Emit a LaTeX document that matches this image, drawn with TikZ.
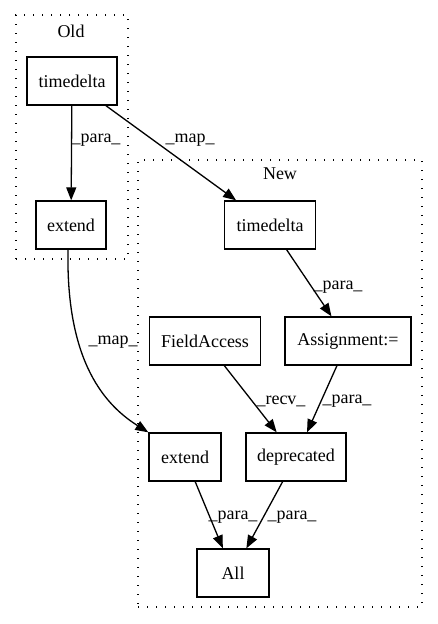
\documentclass[tikz,border=0pt]{standalone}
\usepackage{fontspec}
\setmainfont{Liberation Serif}
\usetikzlibrary{arrows.meta}
\begin{document}
\begin{tikzpicture}[x=1pt,y=-1pt,
  font=\fontsize{18}{20}\selectfont,
  box/.style={draw, line width=1.3pt, rectangle, inner sep=0pt, minimum height=48pt},
  cluster/.style={draw, line width=1.3pt, dash pattern=on 1.3pt off 7.7pt, rectangle, inner sep=0pt},
  edge/.style={draw, line width=1.3pt, -{Triangle[length=13pt,width=10pt]}},
  lbl/.style={inner sep=0pt}]
\useasboundingbox (0,0) rectangle (437,624);
% clusters
\node[cluster, minimum width=112pt, minimum height=244pt] (cold) at (72,137) {};
\node[cluster, minimum width=284pt, minimum height=447pt] (cnew) at (280,383.5) {};
\node[lbl] (told) at (71,31) {Old};
\node[lbl] (tnew) at (280,174) {New};
% nodes
\node[box, minimum width=90pt] (otd) at (72,81) {timedelta};
\node[box, minimum width=70pt] (oext) at (71,225) {extend};
\node[box, minimum width=91pt] (ntd) at (270,225) {timedelta};
\node[box, minimum width=111pt] (fa) at (205,341) {FieldAccess};
\node[box, minimum width=126pt] (asg) at (348,341) {Assignment:=};
\node[box, minimum width=72pt] (next) at (185,457) {extend};
\node[box, minimum width=100pt] (dep) at (296,457) {deprecated};
\node[box, minimum width=72pt] (all) at (233,573) {All};
% edges
\draw[edge] (otd) -- (oext);
\draw[edge] (otd) -- (ntd);
\draw[edge] (ntd) -- (asg);
\draw[edge] (fa) -- (dep);
\draw[edge] (asg) -- (dep);
\draw[edge] (next) -- (all);
\draw[edge] (dep) -- (all);
\draw[edge] ([xshift=-3pt]oext.south) .. controls (66,355) and (100,402) .. (next.north west);
% labels
\node[lbl] (l1) at (96,140) {\_para\_};
\node[lbl] (l2) at (190,140) {\_map\_};
\node[lbl] (l3) at (338,287) {\_para\_};
\node[lbl] (l4) at (281,401) {\_recv\_};
\node[lbl] (l5) at (347,401) {\_para\_};
\node[lbl] (l6) at (233,517) {\_para\_};
\node[lbl] (l7) at (292,517) {\_para\_};
\node[lbl] (l8) at (113,342) {\_map\_};
\end{tikzpicture}
\end{document}
